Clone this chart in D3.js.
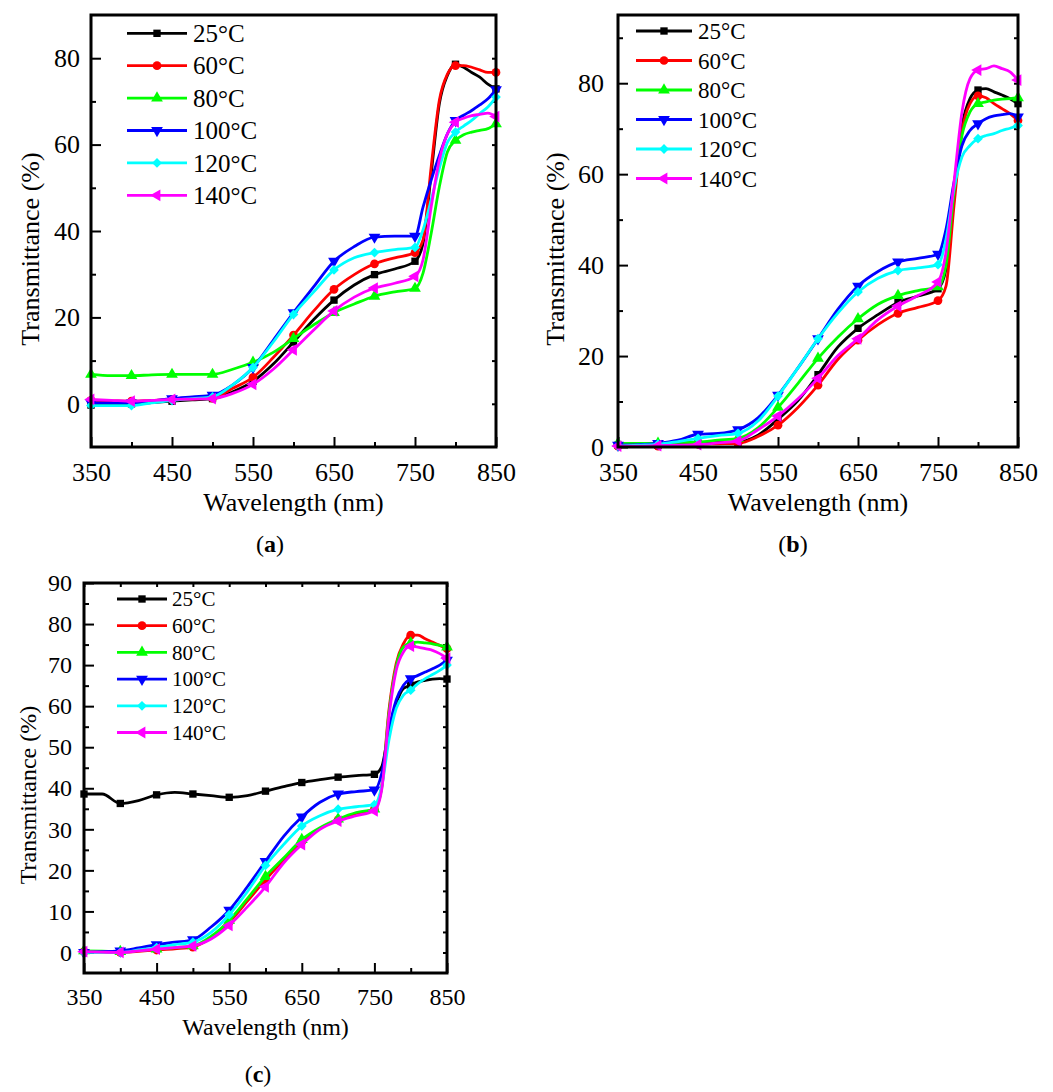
<!DOCTYPE html>
<html>
<head>
<meta charset="utf-8">
<script src="https://cdn.jsdelivr.net/npm/d3@7"></script>
<style>
body { margin: 0; background: #fff; }
svg { display: block; }
</style>
</head>
<body>
<script>
// wavelength grid (nm) shared by all three panels
var wavelength = [350,375,400,425,450,475,500,525,550,575,600,625,650,675,700,725,750,760,770,780,790,800,810,820,830,840,850];
var markerWl = [350,400,450,500,550,600,650,700,750,800,850];
var temps = ["25°C","60°C","80°C","100°C","120°C","140°C"];
var colors = ["#000000","#ff0000","#00ff00","#0000ff","#00ffff","#ff00ff"];

// panel (a)
var a25  = [-0.3,-0.2,0,0.3,0.6,0.9,1.2,2.8,5.2,9.2,14.3,19.5,24,27.5,29.9,31.2,33,37.2,53.3,69.4,76,78.6,77.9,76.7,75.6,74,72.9];
var a60  = [0.8,0.7,0.6,0.8,1,1.1,1.3,3.6,6.1,10.7,15.9,21.5,26.5,29.9,32.4,33.8,35,38,54.9,70.2,76.3,78.3,78.3,77.9,77.3,76.7,76.7];
var a80  = [6.8,6.5,6.5,6.7,6.8,6.8,6.8,8,9.6,11.9,15.1,18.3,21.1,23.1,24.9,25.9,26.7,30.3,39.5,50.2,58.3,61,62.3,62.9,63.3,63.7,64.8];
var a100 = [0.2,0.2,0.2,0.7,1.2,1.6,2,4.4,8.4,14.7,21.1,27.1,33,36.4,38.6,38.8,38.8,45.6,51.8,57.5,62.5,65.6,66.8,67.9,69.2,70.6,72.7];
var a120 = [-0.4,-0.4,-0.4,0.2,0.8,1.2,1.6,4.4,8.4,14.3,20.7,25.9,31,33.8,35,35.7,36.2,40.3,47.2,54.5,60.5,62.9,64.3,65.6,67.2,68.7,71];
var a140 = [1,0.8,0.6,0.8,1,1.1,1.2,2.4,4.5,8,12.5,17.1,21.5,24.7,26.8,27.9,29.5,33.4,45.6,56.4,62.5,65.2,66.1,66.7,67,67.3,66.5];

// panel (b)
var b25  = [0.4,0.4,0.4,0.6,0.8,1,1.1,2.6,6.1,10.2,15.9,22,26.1,29.1,31.8,33.2,34.8,39.1,56.8,70.7,76.6,78.5,78.8,78.1,77.4,76.6,75.5];
var b60  = [0.2,0.2,0.2,0.4,0.6,0.7,0.8,2.3,4.8,8.7,13.6,19.3,23.5,26.9,29.4,30.7,32.2,35.4,53.1,69.3,75.5,77.2,76.8,75.5,74.4,73.3,71.8];
var b80  = [0.8,0.8,0.8,1,1.1,1.5,1.9,4.2,8.7,14,19.5,24.2,28.2,31.4,33.3,34.4,35.2,39.9,56,68.5,73.7,75.5,75.9,76.3,76.5,76.6,76.8];
var b100 = [0.4,0.5,0.8,1.5,2.8,3,3.8,6.4,11.4,17.4,23.8,30.3,35.4,38.6,40.7,41.5,42.4,47.9,58.2,66.3,69.6,71.1,72.2,72.8,73.1,73.3,72.6];
var b120 = [0.2,0.4,0.6,1.2,1.9,2.5,3,5.7,11.2,17.4,23.8,29.5,34.1,37.1,38.8,39.4,40.1,45.7,56.8,63.8,66.3,67.8,68.5,68.9,69.6,70.1,70.7];
var b140 = [0.2,0.2,0.3,0.4,0.5,0.9,1.3,3.8,6.8,10.6,15.1,20.1,23.8,28,31,33.3,36.3,42.8,58.2,73.7,81,82.9,83.2,83.8,83.2,82.5,80.7];

// panel (c)
var c25  = [38.6,38.6,36.3,37,38.4,39,38.6,38.2,37.8,38.2,39.3,40.4,41.4,42.1,42.7,43.1,43.4,45.2,54.2,60.6,64.3,65.1,65.9,66.3,66.6,66.7,66.6];
var c60  = [0.2,0.1,0,0.3,0.6,0.9,1.3,3.6,7.4,12.5,17.7,22.5,27,30.2,32.3,33.9,34.9,40.4,59,70.4,75.2,77.3,77.3,76.4,75.6,74.8,74];
var c80  = [0.4,0.3,0.2,0.5,0.8,1.2,1.6,3.9,7.8,13.1,18.5,23,27.5,30.4,32.5,34.1,34.9,40,58.2,69.6,74.4,75.4,75.6,75.4,75.2,74.8,74.4];
var c100 = [0,0.2,0.4,1.1,1.9,2.5,3.1,6.2,10.3,16,22.2,28.3,33,36.6,38.6,39.2,39.6,43.6,54.2,61.5,65.1,66.7,67.5,68.3,69.1,70,71.2];
var c120 = [0,0,0,0.6,1.2,1.9,2.5,4.9,9.2,14.8,21.2,26.3,30.8,33.3,34.9,35.5,36,40.4,51.7,59.4,62.7,63.9,65.5,66.7,67.7,68.7,70];
var c140 = [0.2,0.1,0,0.4,0.8,1.2,1.6,3.3,6.6,11.1,16,21.8,26.3,30,32,33.3,34.5,39.6,57.4,68.7,73.2,74.6,74.4,74,73.6,72.8,71.7];

var xMajor = [350,450,550,650,750,850];
var xMinor = [400,500,600,700,800];

var FONT = "'Liberation Serif', 'Times New Roman', Times, serif";
var W = 1053, H = 1092;
var svg = d3.select("body").append("svg").attr("width", W).attr("height", H)
  .attr("font-family", FONT);

// marker shapes: square, circle, up, down, diamond, left
function marker(g, i, size) {
  var s;
  if (i === 0) s = d3.symbol().type(d3.symbolSquare).size(size * 0.9);
  else if (i === 1) s = d3.symbol().type(d3.symbolCircle).size(size);
  else if (i === 4) s = d3.symbol().type(d3.symbolSquare).size(size * 0.8);
  else s = d3.symbol().type(d3.symbolTriangle).size(size);
  var rot = [0, 0, 0, 180, 45, -90][i];
  return g.append("path").attr("d", s()).attr("fill", colors[i])
    .attr("transform", "rotate(" + rot + ")");
}

function drawPanel(p) {
  var x = d3.scaleLinear().domain([350, 850]).range([p.left, p.right]);
  var y = d3.scaleLinear().domain(p.ydom).range([p.bottom, p.top]);
  var g = svg.append("g");

  // bottom axis (inward ticks)
  g.append("g").attr("transform", "translate(0," + p.bottom + ")")
    .call(d3.axisBottom(x).tickValues(xMajor).tickSize(-10).tickPadding(p.xPad).tickFormat(d3.format("d")));
  g.append("g").attr("transform", "translate(0," + p.bottom + ")")
    .call(d3.axisBottom(x).tickValues(xMinor).tickSize(-5).tickFormat(""));
  // left axis
  g.append("g").attr("transform", "translate(" + p.left + ",0)")
    .call(d3.axisLeft(y).tickValues(p.yMajor).tickSize(-10).tickPadding(p.yPad).tickFormat(d3.format("d")));
  g.append("g").attr("transform", "translate(" + p.left + ",0)")
    .call(d3.axisLeft(y).tickValues(p.yMinor).tickSize(-5).tickFormat(""));
  // right mirror ticks
  g.append("g").attr("transform", "translate(" + p.right + ",0)")
    .call(d3.axisRight(y).tickValues(p.rightTicks).tickSize(-4).tickFormat(""));
  if (p.topTicks) {
    g.append("g").attr("transform", "translate(0," + p.top + ")")
      .call(d3.axisTop(x).tickValues(xMajor.concat(xMinor)).tickSize(-4).tickFormat(""));
  }
  g.selectAll(".domain").remove();
  g.selectAll("g").attr("font-family", FONT);
  g.selectAll(".tick line").attr("stroke", "#000").attr("stroke-width", 2);
  g.selectAll(".tick text").attr("font-family", FONT).attr("font-size", p.tickFont);

  // curves
  var line = d3.line()
    .x(function(d) { return x(d[0]); })
    .y(function(d) { return y(d[1]); })
    .curve(d3.curveMonotoneX);
  p.series.forEach(function(vals, i) {
    var pts = wavelength.map(function(w, k) { return [w, vals[k]]; });
    g.append("path").datum(pts).attr("d", line)
      .attr("fill", "none").attr("stroke", colors[i]).attr("stroke-width", 2.8)
      .attr("stroke-linejoin", "round");
    pts.filter(function(d) { return markerWl.indexOf(d[0]) >= 0; }).forEach(function(d) {
      var m = g.append("g").attr("transform", "translate(" + x(d[0]) + "," + y(d[1]) + ")");
      marker(m, i, 60);
    });
  });

  // frame
  g.append("rect").attr("x", p.left).attr("y", p.top)
    .attr("width", p.right - p.left).attr("height", p.bottom - p.top)
    .attr("fill", "none").attr("stroke", "#000").attr("stroke-width", 3);

  // legend
  temps.forEach(function(t, i) {
    var ly = p.legY + i * p.legStep;
    g.append("line").attr("x1", p.legX0).attr("x2", p.legX1).attr("y1", ly).attr("y2", ly)
      .attr("stroke", colors[i]).attr("stroke-width", 2.8);
    var m = g.append("g").attr("transform", "translate(" + ((p.legX0 + p.legX1) / 2) + "," + ly + ")");
    marker(m, i, 60);
    g.append("text").attr("x", p.legTextX).attr("y", ly).attr("dy", "0.35em")
      .attr("font-size", p.legFont).text(t);
  });

  // axis titles
  g.append("text").attr("x", (p.left + p.right) / 2).attr("y", p.xTitleY)
    .attr("text-anchor", "middle").attr("font-size", p.titleFont).text("Wavelength (nm)");
  g.append("text").attr("transform", "translate(" + p.yTitleX + "," + p.yTitleCY + ") rotate(-90)")
    .attr("text-anchor", "middle").attr("font-size", p.titleFont).text("Transmittance (%)");

  // panel label
  var lab = g.append("text").attr("x", p.labX).attr("y", p.labY).attr("text-anchor", "middle")
    .attr("font-size", p.labFont);
  lab.append("tspan").text("(");
  lab.append("tspan").attr("font-weight", "bold").text(p.label);
  lab.append("tspan").text(")");
}

drawPanel({
  left: 91, right: 496, top: 15, bottom: 447, ydom: [-10, 90],
  yMajor: [0, 20, 40, 60, 80], yMinor: [10, 30, 50, 70],
  rightTicks: [0, 10, 20, 30, 40, 50, 60, 70, 80], topTicks: false,
  xPad: 16, yPad: 11, tickFont: 26, titleFont: 26,
  series: [a25, a60, a80, a100, a120, a140],
  legX0: 127, legX1: 187, legTextX: 193, legY: 33.3, legStep: 32.4, legFont: 25,
  xTitleY: 511, yTitleX: 39, yTitleCY: 249,
  label: "a", labX: 270, labY: 552, labFont: 24
});

drawPanel({
  left: 618, right: 1018, top: 15, bottom: 447, ydom: [0, 95],
  yMajor: [0, 20, 40, 60, 80], yMinor: [10, 30, 50, 70, 90],
  rightTicks: [10, 20, 30, 40, 50, 60, 70, 80, 90], topTicks: false,
  xPad: 16, yPad: 14, tickFont: 26, titleFont: 26,
  series: [b25, b60, b80, b100, b120, b140],
  legX0: 636, legX1: 692, legTextX: 698, legY: 31, legStep: 29.5, legFont: 23,
  xTitleY: 511, yTitleX: 564, yTitleCY: 249,
  label: "b", labX: 793, labY: 552, labFont: 24
});

drawPanel({
  left: 84, right: 447, top: 583, bottom: 973, ydom: [-5, 90],
  yMajor: [0, 10, 20, 30, 40, 50, 60, 70, 80, 90], yMinor: [5, 15, 25, 35, 45, 55, 65, 75, 85],
  rightTicks: [0, 5, 10, 15, 20, 25, 30, 35, 40, 45, 50, 55, 60, 65, 70, 75, 80, 85], topTicks: true,
  xPad: 15, yPad: 12, tickFont: 24, titleFont: 24,
  series: [c25, c60, c80, c100, c120, c140],
  legX0: 117, legX1: 167, legTextX: 172, legY: 599, legStep: 26.7, legFont: 21,
  xTitleY: 1035, yTitleX: 36, yTitleCY: 795,
  label: "c", labX: 258, labY: 1082, labFont: 24
});
</script>
</body>
</html>
